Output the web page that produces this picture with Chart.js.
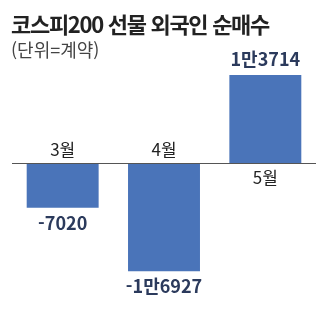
<!DOCTYPE html>
<html lang="ko">
<head>
<meta charset="utf-8">
<script src="https://cdn.jsdelivr.net/npm/chart.js@4/dist/chart.umd.min.js"></script>
<style>
  html, body { margin: 0; padding: 0; background: #fff; }
  #wrap { position: relative; width: 329px; height: 332px; overflow: hidden; }
  #c { position: absolute; left: 0; top: 0; }
  .title { position: absolute; left: 11px; top: 9px; font: bold 22px "Noto Sans CJK KR", sans-serif; letter-spacing: -1.3px; color: #222; white-space: nowrap; line-height: 28px; }
  .sub { position: absolute; left: 11px; top: 37px; font: 18px "Noto Sans CJK KR", sans-serif; color: #444; white-space: nowrap; line-height: 24px; }
</style>
</head>
<body>
<div id="wrap">
  <canvas id="c" width="329" height="332"></canvas>
  <div class="title">코스피200 선물 외국인 순매수</div>
  <div class="sub">(단위=계약)</div>
</div>
<script>
// 외국인 순매수 (계약)
const months = ["3월", "4월", "5월"];
const netBuy = [-7020, -16927, 13714];
const yMin = -20000, yMax = 14500;

const BAR = "#4a74b9";
const NAVY = "#2b3a5c";

// 1만3714 style
function fmt(v) {
  const a = Math.abs(v), sign = v < 0 ? "-" : "";
  if (a >= 10000) return sign + Math.floor(a / 10000) + "만" + String(a % 10000).padStart(4, "0");
  return sign + a;
}

const labelPlugin = {
  id: "labels",
  afterDatasetsDraw(chart) {
    const { ctx, scales: { y } } = chart;
    const zero = y.getPixelForValue(0);
    const area = chart.chartArea;
    // zero line
    ctx.save();
    ctx.strokeStyle = "#555";
    ctx.lineWidth = 1;
    ctx.beginPath();
    ctx.moveTo(area.left, Math.round(zero) + 0.5);
    ctx.lineTo(area.right, Math.round(zero) + 0.5);
    ctx.stroke();

    ctx.textAlign = "center";
    ctx.textBaseline = "middle";
    chart.getDatasetMeta(0).data.forEach((bar, i) => {
      const v = netBuy[i];
      const up = v >= 0;
      // value
      ctx.font = "bold 18px 'Noto Sans CJK KR', sans-serif";
      ctx.fillStyle = NAVY;
      ctx.fillText(fmt(v), bar.x, up ? bar.y - 16 : bar.y + 15);
      // month on the other side of zero
      ctx.font = "17px 'Noto Sans CJK KR', sans-serif";
      ctx.fillStyle = "#222";
      ctx.fillText(months[i], bar.x, up ? zero + 15 : zero - 13);
    });
    ctx.restore();
  },
};

new Chart(document.getElementById("c"), {
  type: "bar",
  data: { labels: months, datasets: [{ data: netBuy, backgroundColor: BAR, borderWidth: 0, barPercentage: 0.71, categoryPercentage: 1 }] },
  options: {
    responsive: false,
    animation: false,
    layout: { padding: { left: 12, right: 13, top: 70, bottom: 41 } },
    plugins: { legend: { display: false }, tooltip: { enabled: false } },
    scales: {
      x: { display: false },
      y: { display: false, min: yMin, max: yMax },
    },
  },
  plugins: [labelPlugin],
});
</script>
</body>
</html>
